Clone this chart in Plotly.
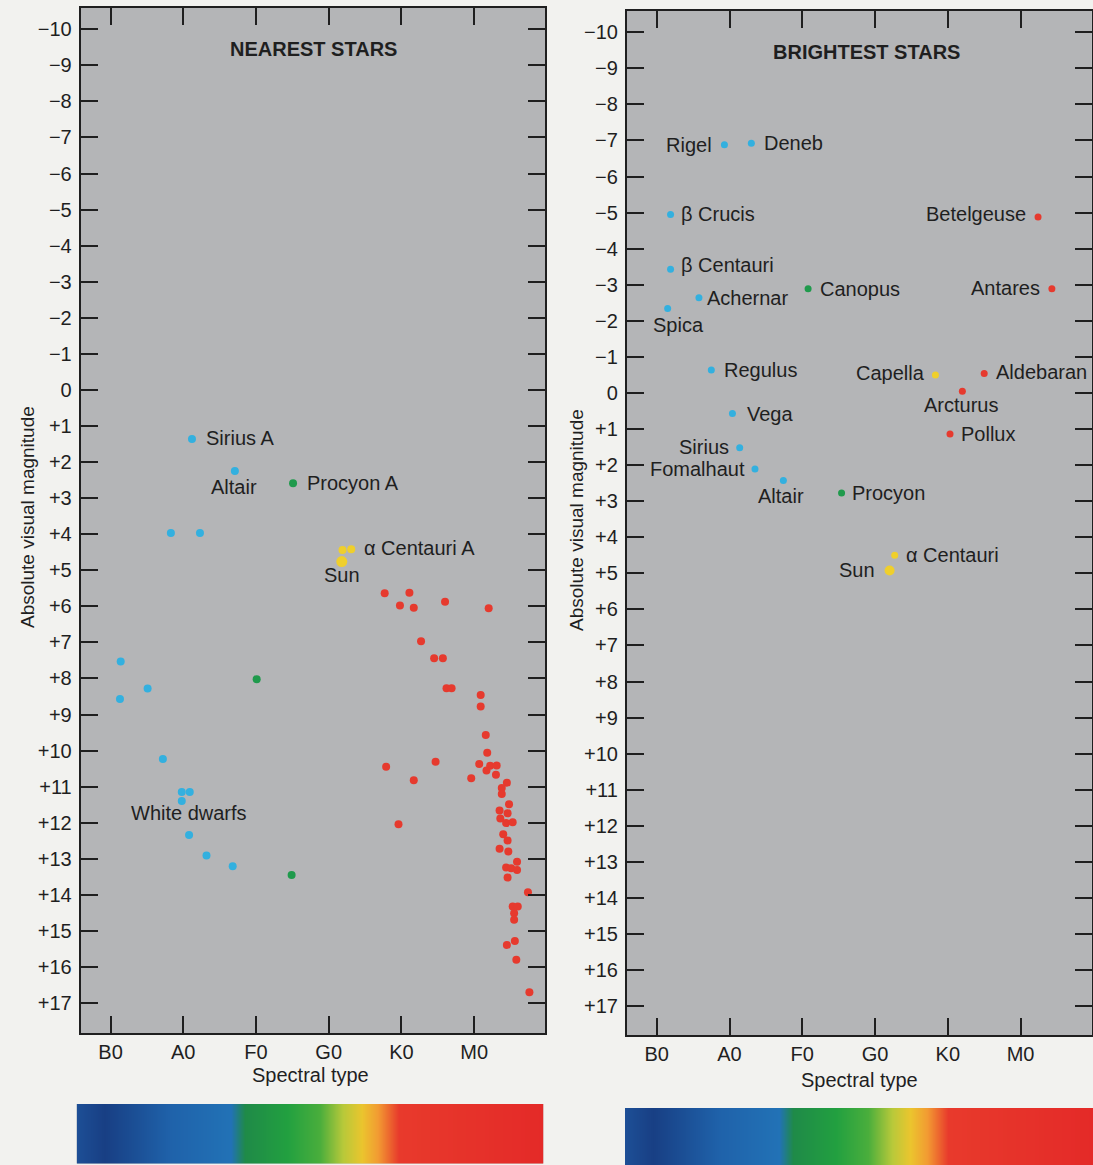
import plotly.graph_objects as go

# ---------------- DATA ----------------
SPECTRAL_TICKS = [0, 1, 2, 3, 4, 5]
SPECTRAL_LABELS = ["B0", "A0", "F0", "G0", "K0", "M0"]
MAG_TICKS = list(range(-10, 18))
MAG_LABELS = [("\u2212" + str(-m)) if m < 0 else ("0" if m == 0 else "+" + str(m)) for m in MAG_TICKS]

# Nearest stars (spectral position, absolute magnitude)
near_blue_x = [1.12, 1.71, 0.83, 1.23, 0.14, 0.13, 0.51, 0.72, 0.98, 1.09, 0.98, 1.08, 1.32, 1.68]
near_blue_y = [1.36, 2.25, 3.97, 3.97, 7.53, 8.57, 8.28, 10.23, 11.15, 11.15, 11.40, 12.34, 12.91, 13.21]
near_green_x = [2.51, 2.01, 2.49]
near_green_y = [2.59, 8.02, 13.45]
near_yellow_x = [3.19, 3.31]
near_yellow_y = [4.44, 4.42]
near_sun_x = [3.18]
near_sun_y = [4.76]
near_red_x = [3.77, 4.11, 3.98, 4.17, 4.60, 5.20, 4.27, 4.45, 4.57, 4.62, 4.69, 5.09, 5.09, 5.16,
              3.79, 4.17, 4.47, 3.96,
              5.18, 5.07, 5.22, 5.31, 5.17, 4.96, 5.30, 5.45, 5.38, 5.38, 5.48, 5.35, 5.46, 5.36,
              5.44, 5.53, 5.40, 5.46, 5.35, 5.47, 5.59, 5.44, 5.51, 5.59, 5.46, 5.74,
              5.53, 5.60, 5.55, 5.55, 5.56, 5.45, 5.58, 5.76]
near_red_y = [5.64, 5.62, 5.98, 6.04, 5.87, 6.05, 6.97, 7.44, 7.44, 8.27, 8.27, 8.46, 8.78, 9.57,
              10.45, 10.82, 10.31, 12.04,
              10.06, 10.37, 10.42, 10.41, 10.55, 10.77, 10.67, 10.89, 11.04, 11.20, 11.49, 11.66, 11.74, 11.88,
              12.01, 11.99, 12.32, 12.49, 12.72, 12.80, 13.08, 13.24, 13.26, 13.31, 13.52, 13.93,
              14.32, 14.32, 14.51, 14.69, 15.28, 15.39, 15.80, 16.70]

near_labels = ["Sirius A", "Altair", "Procyon A", "\u03b1 Centauri A", "Sun", "White dwarfs"]
near_label_x = [1.29, 1.70, 2.68, 3.46, 3.18, 1.08]
near_label_y = [1.32, 2.68, 2.59, 4.37, 5.13, 11.74]
near_label_anchor = ["left", "center", "left", "left", "center", "center"]

# Brightest stars
bright_names = ["Rigel", "Deneb", "\u03b2 Crucis", "\u03b2 Centauri", "Achernar", "Spica", "Canopus",
                "Betelgeuse", "Antares", "Regulus", "Capella", "Aldebaran", "Arcturus", "Vega",
                "Pollux", "Sirius", "Fomalhaut", "Altair", "Procyon", "\u03b1 Centauri", "Sun"]
bright_x = [0.93, 1.30, 0.19, 0.19, 0.58, 0.15, 2.08, 5.24, 5.43, 0.75, 3.83, 4.50, 4.20, 1.04,
            4.03, 1.14, 1.35, 1.74, 2.54, 3.27, 3.20]
bright_y = [-6.88, -6.92, -4.95, -3.43, -2.64, -2.34, -2.89, -4.88, -2.89, -0.64, -0.50, -0.54, -0.05, 0.57,
            1.14, 1.52, 2.11, 2.43, 2.77, 4.50, 4.92]
bright_class = ["blue", "blue", "blue", "blue", "blue", "blue", "green", "red", "red", "blue", "yellow",
                "red", "red", "blue", "red", "blue", "blue", "blue", "green", "yellow", "sun"]
bright_label_x = [0.78, 1.45, 0.30, 0.30, 0.67, 0.30, 2.22, 5.10, 5.30, 0.90, 3.71, 4.63, 4.18, 1.21,
                  4.16, 1.02, 1.24, 1.71, 2.66, 3.40, 3.03]
bright_label_y = [-6.88, -6.92, -4.95, -3.55, -2.62, -1.88, -2.89, -4.95, -2.91, -0.64, -0.54, -0.57, 0.32, 0.57,
                  1.14, 1.49, 2.12, 2.86, 2.77, 4.48, 4.91]
bright_label_anchor = ["right", "left", "left", "left", "left", "center", "left", "right", "right", "left",
                       "right", "left", "center", "left", "left", "right", "right", "center", "left", "left",
                       "right"]

# Spectrum colour strip stops
STRIP_POS = [0.0, 0.06, 0.20, 0.33, 0.36, 0.45, 0.52, 0.57, 0.61, 0.645, 0.69, 1.0]
STRIP_COL = ["#1d4f96", "#183f84", "#1f62aa", "#2272b6", "#1f8a48", "#22a040", "#4aae3c",
             "#b8c93a", "#ebc52e", "#f29b32", "#e83a2c", "#e42a28"]

# ---------------- STYLE ----------------
FONT = "Liberation Sans, Arial, Helvetica, sans-serif"
INK = "#1f1f1f"
PAGE = "#f2f2ef"
PANEL = "#b4b5b7"
COLORS = {"blue": "#33b0df", "green": "#1f9a4c", "yellow": "#efcf2c", "sun": "#efcf2c", "red": "#e63a2e"}
W, H = 1093, 1165

fig = go.Figure()

def dots(x, y, color, size, xa, ya):
    fig.add_trace(go.Scatter(x=x, y=y, mode="markers", xaxis=xa, yaxis=ya,
                             marker=dict(color=color, size=size, line=dict(width=0)),
                             showlegend=False, hoverinfo="skip"))

dots(near_blue_x, near_blue_y, COLORS["blue"], 8, "x", "y")
dots(near_green_x, near_green_y, COLORS["green"], 8, "x", "y")
dots(near_yellow_x, near_yellow_y, COLORS["yellow"], 8, "x", "y")
dots(near_sun_x, near_sun_y, COLORS["sun"], 11, "x", "y")
dots(near_red_x, near_red_y, COLORS["red"], 8, "x", "y")

for cls in ["blue", "green", "yellow", "red", "sun"]:
    xs = [bx for bx, c in zip(bright_x, bright_class) if c == cls]
    ys = [by for by, c in zip(bright_y, bright_class) if c == cls]
    dots(xs, ys, COLORS[cls], 10 if cls == "sun" else 7, "x2", "y2")

# colour strips
strip_scale = [[p, c] for p, c in zip(STRIP_POS, STRIP_COL)]
for xa, ya in [("x3", "y3"), ("x4", "y4")]:
    fig.add_trace(go.Heatmap(x=STRIP_POS, y=[0, 1], z=[STRIP_POS, STRIP_POS], colorscale=strip_scale,
                             zmin=0, zmax=1, zsmooth="best", showscale=False, hoverinfo="skip",
                             xaxis=xa, yaxis=ya))

ann = []
for t, x, y, a in zip(near_labels, near_label_x, near_label_y, near_label_anchor):
    ann.append(dict(text=t, x=x, y=y, xref="x", yref="y", xanchor=a, yanchor="middle",
                    showarrow=False, font=dict(family=FONT, size=20, color=INK)))
for t, x, y, a in zip(bright_names, bright_label_x, bright_label_y, bright_label_anchor):
    ann.append(dict(text=t, x=x, y=y, xref="x2", yref="y2", xanchor=a, yanchor="middle",
                    showarrow=False, font=dict(family=FONT, size=20, color=INK)))

def paper_text(t, px, py, size=20, bold=False, angle=0):
    ann.append(dict(text=("<b>%s</b>" % t) if bold else t, x=px / W, y=1 - py / H, xref="paper", yref="paper",
                    xanchor="center", yanchor="middle", showarrow=False, textangle=angle,
                    font=dict(family=FONT, size=size, color=INK)))

paper_text("NEAREST STARS", 313, 49, 20, True)
paper_text("BRIGHTEST STARS", 866, 52, 20, True)
paper_text("Absolute visual magnitude", 27, 517, 19, angle=-90)
paper_text("Absolute visual magnitude", 576, 520, 19, angle=-90)
paper_text("Spectral type", 310, 1075, 20)
paper_text("Spectral type", 859, 1080, 20)

axis_common = dict(showline=True, linecolor=INK, linewidth=2, mirror="ticks", ticks="inside",
                   ticklen=17, tickwidth=2, tickcolor=INK, showgrid=False, zeroline=False,
                   tickfont=dict(family=FONT, size=20, color=INK), fixedrange=True)
xr = [-0.41, 5.98]

fig.update_layout(
    width=W, height=H, margin=dict(l=0, r=0, t=0, b=0),
    paper_bgcolor=PAGE, plot_bgcolor=PANEL, showlegend=False,
    xaxis=dict(domain=[80.7 / W, 545.4 / W], range=xr, tickvals=SPECTRAL_TICKS, ticktext=SPECTRAL_LABELS,
               anchor="y", **axis_common),
    yaxis=dict(domain=[1 - 1033 / H, 1 - 8 / H], range=[17.83, -10.59], tickvals=MAG_TICKS, ticktext=MAG_LABELS,
               anchor="x", ticklabelstandoff=3, **axis_common),
    xaxis2=dict(domain=[626.9 / W, 1091.9 / W], range=xr, tickvals=SPECTRAL_TICKS, ticktext=SPECTRAL_LABELS,
                anchor="y2", **axis_common),
    yaxis2=dict(domain=[1 - 1035 / H, 1 - 11 / H], range=[17.8, -10.59], tickvals=MAG_TICKS, ticktext=MAG_LABELS,
                anchor="x2", ticklabelstandoff=3, **axis_common),
    xaxis3=dict(domain=[76.7 / W, 543.3 / W], range=[0, 1], visible=False, anchor="y3", fixedrange=True),
    yaxis3=dict(domain=[1 - 1163.5 / H, 1 - 1104 / H], range=[0, 1], visible=False, anchor="x3", fixedrange=True),
    xaxis4=dict(domain=[625 / W, 1.0], range=[0, 1], visible=False, anchor="y4", fixedrange=True),
    yaxis4=dict(domain=[0, 1 - 1108 / H], range=[0, 1], visible=False, anchor="x4", fixedrange=True),
    annotations=ann,
)

fig.write_html("out.html")
